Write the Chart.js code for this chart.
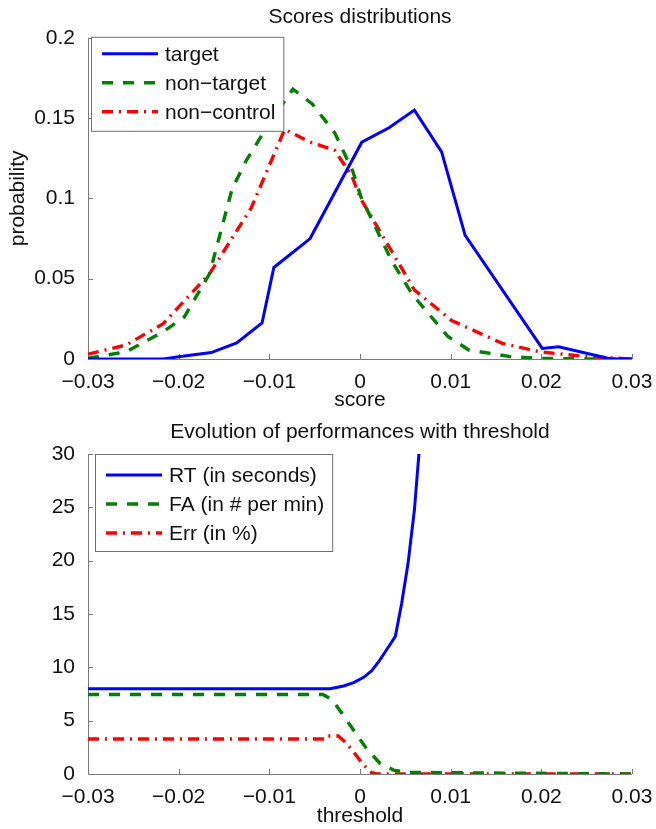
<!DOCTYPE html>
<html>
<head>
<meta charset="utf-8">
<script src="https://cdn.jsdelivr.net/npm/chart.js@4.4.0/dist/chart.umd.min.js"></script>
<style>
  body { margin: 0; background: #fff; }
  canvas { position: absolute; left: 0; }
  #scores { top: 0; }
  #perf { top: 415px; }
</style>
</head>
<body>
<canvas id="scores" width="656" height="415"></canvas>
<canvas id="perf" width="656" height="414"></canvas>
<script>
const FONT = '"Liberation Sans", Arial, Helvetica, sans-serif';
const xTicks = [-0.03, -0.02, -0.01, 0, 0.01, 0.02, 0.03];

// Scores distributions
const probTicks = [0, 0.05, 0.1, 0.15, 0.2];
const targetX = [-0.03, -0.0217, -0.0198, -0.0164, -0.0136, -0.0108, -0.0095, -0.0055, 0.0002, 0.0032, 0.006, 0.009, 0.0116, 0.0201, 0.0219, 0.0277, 0.03];
const targetY = [0, 0, 0.0015, 0.004, 0.010, 0.0225, 0.057, 0.075, 0.135, 0.144, 0.155, 0.129, 0.077, 0.0066, 0.0076, 0, 0];
const nonTargetX = [-0.03, -0.0258, -0.0217, -0.0194, -0.0166, -0.0141, -0.0125, -0.0102, -0.0074, -0.0053, -0.0028, -0.0008, 0.0001, 0.0035, 0.0058, 0.0097, 0.012, 0.0166, 0.020, 0.025, 0.03];
const nonTargetY = [0.0005, 0.0045, 0.017, 0.026, 0.053, 0.106, 0.124, 0.145, 0.168, 0.159, 0.141, 0.117, 0.101, 0.061, 0.040, 0.014, 0.0056, 0.0015, 0.0004, 0, 0];
const nonControlX = [-0.03, -0.0258, -0.0217, -0.0166, -0.012, -0.0083, -0.0055, -0.0028, -0.0009, 0.0, 0.006, 0.0101, 0.0157, 0.0198, 0.0249, 0.03];
const nonControlY = [0.003, 0.0087, 0.022, 0.053, 0.094, 0.143, 0.135, 0.130, 0.114, 0.1006, 0.043, 0.024, 0.0097, 0.0045, 0.0015, 0];

// Evolution of performances with threshold
const perfTicks = [0, 5, 10, 15, 20, 25, 30];
const rtX = [-0.03, -0.0033, -0.0018, -0.0007, 0.0004, 0.0013, 0.0022, 0.0029, 0.0039, 0.0046, 0.0053, 0.006, 0.0065];
const rtY = [8.0, 8.0, 8.25, 8.56, 9.06, 9.69, 10.7, 11.6, 12.9, 16.0, 19.75, 24.75, 30];
const faX = [-0.03, -0.0041, -0.0031, -0.002, -0.0007, 0.0007, 0.0022, 0.0037, 0.0051, 0.03];
const faY = [7.45, 7.45, 7.0, 5.7, 4.1, 2.4, 1.0, 0.37, 0.15, 0];
const errX = [-0.03, -0.0038, -0.0036, -0.0024, -0.0015, -0.0006, 0.0004, 0.0013, 0.0018, 0.03];
const errY = [3.28, 3.28, 3.56, 3.56, 2.9, 1.94, 0.84, 0.12, 0, 0];

const BLUE = '#0000ff', GREEN = '#008000', RED = '#ff0000';
const DASH = [11, 10], DASHDOT = [11, 6, 2, 6];

const fmt = v => String(Math.round(v * 1000) / 1000).replace('-', '\u2212');

// left/bottom axis lines with inward ticks, like matlab's "box off"
const matlabAxes = {
  id: 'matlabAxes',
  beforeDatasetsDraw(chart) {
    const ctx = chart.ctx, a = chart.chartArea;
    const xs = chart.scales.x, ys = chart.scales.y;
    ctx.save();
    ctx.strokeStyle = '#7a7a7a';
    ctx.lineWidth = 1;
    ctx.beginPath();
    ctx.moveTo(a.left + 0.5, a.top);
    ctx.lineTo(a.left + 0.5, a.bottom + 0.5);
    ctx.lineTo(a.right, a.bottom + 0.5);
    xs.ticks.forEach(t => {
      const px = Math.round(xs.getPixelForValue(t.value)) + 0.5;
      ctx.moveTo(px, a.bottom);
      ctx.lineTo(px, a.bottom - 5);
    });
    ys.ticks.forEach(t => {
      const py = Math.round(ys.getPixelForValue(t.value)) + 0.5;
      ctx.moveTo(a.left, py);
      ctx.lineTo(a.left + 5, py);
    });
    ctx.stroke();
    ctx.restore();
  }
};

// legend box drawn inside the plot, top left
const insideLegend = {
  id: 'insideLegend',
  afterDatasetsDraw(chart, args, opts) {
    const ctx = chart.ctx, a = chart.chartArea;
    const sets = chart.data.datasets;
    ctx.save();
    ctx.font = '21px ' + FONT;
    const textW = Math.max(...sets.map(d => ctx.measureText(d.label).width));
    const x0 = a.left + opts.dx, y0 = a.top + opts.dy;
    const w = 74 + textW + 8, h = opts.h;
    ctx.fillStyle = '#fff';
    ctx.fillRect(x0, y0, w, h);
    ctx.strokeStyle = '#707070';
    ctx.lineWidth = 1;
    ctx.strokeRect(x0 + 0.5, y0 + 0.5, w, h);
    sets.forEach((d, i) => {
      const y = y0 + opts.firstRow + i * opts.rowH;
      ctx.strokeStyle = d.borderColor;
      ctx.lineWidth = d.borderWidth;
      ctx.setLineDash(d.borderDash || []);
      ctx.beginPath();
      ctx.moveTo(x0 + 11, y);
      ctx.lineTo(x0 + 67, y);
      ctx.stroke();
      ctx.setLineDash([]);
      ctx.fillStyle = '#111';
      ctx.textBaseline = 'middle';
      ctx.fillText(d.label, x0 + 74, y + 1);
    });
    ctx.restore();
  }
};

function makeChart(id, cfg) {
  return new Chart(document.getElementById(id), {
    type: 'line',
    data: {
      datasets: cfg.series.map(s => ({
        label: s.label,
        data: s.xs.map((x, i) => ({ x: x, y: s.ys[i] })),
        borderColor: s.color,
        borderWidth: s.dash.length ? 3.4 : 3,
        borderDash: s.dash,
        pointRadius: 0,
        tension: 0,
        fill: false
      }))
    },
    options: {
      responsive: false,
      animation: false,
      events: [],
      layout: { padding: { right: 24 } },
      plugins: {
        legend: { display: false },
        tooltip: { enabled: false },
        title: {
          display: true, text: cfg.title, fullSize: false, color: '#111',
          font: { family: FONT, size: 21, weight: 'normal' },
          padding: { top: 4.4, bottom: cfg.titleGap }
        },
        insideLegend: cfg.legend
      },
      scales: {
        x: {
          type: 'linear', min: -0.03, max: 0.03,
          afterBuildTicks: s => { s.ticks = xTicks.map(v => ({ value: v })); },
          afterFit: s => { s.height = cfg.xAxisH; },
          grid: { display: false }, border: { display: false },
          ticks: { color: '#111', padding: 3, maxRotation: 0, font: { family: FONT, size: 21 }, callback: fmt },
          title: { display: true, text: cfg.xTitle, color: '#111', font: { family: FONT, size: 21 }, padding: { top: 0, bottom: cfg.xTitlePad } }
        },
        y: {
          type: 'linear', min: cfg.yTicks[0], max: cfg.yTicks[cfg.yTicks.length - 1],
          afterBuildTicks: s => { s.ticks = cfg.yTicks.map(v => ({ value: v })); },
          afterFit: s => { s.width = 88; },
          grid: { display: false }, border: { display: false },
          ticks: { color: '#111', padding: 5, font: { family: FONT, size: 21 }, callback: fmt },
          title: { display: !!cfg.yTitle, text: cfg.yTitle, color: '#111', font: { family: FONT, size: 21 }, padding: { top: 5.4, bottom: 0 } }
        }
      }
    },
    plugins: [matlabAxes, insideLegend]
  });
}

makeChart('scores', {
  title: 'Scores distributions',
  titleGap: 8.2,
  xTitle: 'score', xTitlePad: 2.4, xAxisH: 56,
  yTitle: 'probability', yTicks: probTicks,
  legend: { dx: 3, dy: -1, firstRow: 17, rowH: 29, h: 94 },
  series: [
    { label: 'target', xs: targetX, ys: targetY, color: BLUE, dash: [] },
    { label: 'non\u2212target', xs: nonTargetX, ys: nonTargetY, color: GREEN, dash: DASH },
    { label: 'non\u2212control', xs: nonControlX, ys: nonControlY, color: RED, dash: DASHDOT }
  ]
});

makeChart('perf', {
  title: 'Evolution of performances with threshold',
  titleGap: 9.4,
  xTitle: 'threshold', xTitlePad: 0, xAxisH: 55,
  yTitle: '', yTicks: perfTicks,
  legend: { dx: 7, dy: 0, firstRow: 21, rowH: 29, h: 97 },
  series: [
    { label: 'RT (in seconds)', xs: rtX, ys: rtY, color: BLUE, dash: [] },
    { label: 'FA (in # per min)', xs: faX, ys: faY, color: GREEN, dash: DASH },
    { label: 'Err (in %)', xs: errX, ys: errY, color: RED, dash: DASHDOT }
  ]
});
</script>
</body>
</html>
